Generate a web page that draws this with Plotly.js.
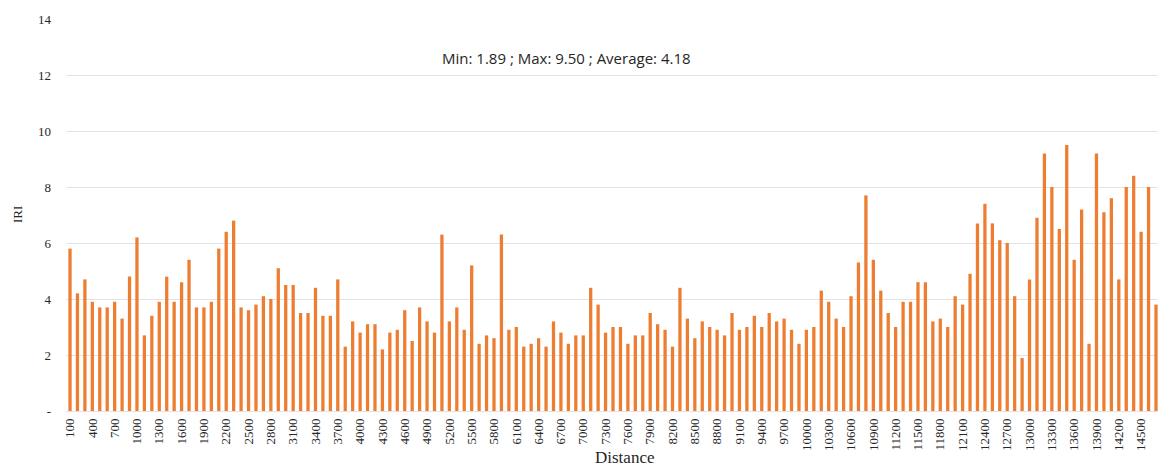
<!DOCTYPE html>
<html>
<head>
<meta charset="utf-8">
<script src="https://cdn.plot.ly/plotly-3.0.1.min.js"></script>
<style>html,body{margin:0;padding:0;background:#fff;}#chart{width:1158px;height:470px;}</style>
</head>
<body>
<div id="chart"></div>
<script>
// Distance (m), every 100 m from 100 to 14700
const distances = [];
for (let d = 100; d <= 14700; d += 100) distances.push(d);

// IRI values
const iri = [
  5.8,4.2,4.7,3.9,3.7,3.7,3.9,3.3,4.8,6.2,2.7,3.4,3.9,4.8,3.9,4.6,
  5.4,3.7,3.7,3.9,5.8,6.4,6.8,3.7,3.6,3.8,4.1,4.0,5.1,4.5,4.5,3.5,
  3.5,4.4,3.4,3.4,4.7,2.3,3.2,2.8,3.1,3.1,2.2,2.8,2.9,3.6,2.5,3.7,3.2,
  2.8,6.3,3.2,3.7,2.9,5.2,2.4,2.7,2.6,6.3,2.9,3.0,2.3,2.4,2.6,2.3,
  3.2,2.8,2.4,2.7,2.7,4.4,3.8,2.8,3.0,3.0,2.4,2.7,2.7,3.5,3.1,2.9,
  2.3,4.4,3.3,2.6,3.2,3.0,2.9,2.7,3.5,2.9,3.0,3.4,3.0,3.5,3.2,3.3,2.9,
  2.4,2.9,3.0,4.3,3.9,3.3,3.0,4.1,5.3,7.7,5.4,4.3,3.5,3.0,3.9,3.9,
  4.6,4.6,3.2,3.3,3.0,4.1,3.8,4.9,6.7,7.4,6.7,6.1,6.0,4.1,1.89,4.7,6.9,
  9.2,8.0,6.5,9.5,5.4,7.2,2.4,9.2,7.1,7.6,4.7,8.0,8.4,6.4,8.0,3.8
];

// X tick labels: every third distance
const xTickVals = distances.filter((d, i) => i % 3 === 0);
const xTickText = xTickVals.map(String);

// Y ticks
const yTickVals = [0, 2, 4, 6, 8, 10, 12, 14];
const yTickText = ['-', '2', '4', '6', '8', '10', '12', '14'];

const statsText = 'Min: 1.89 ; Max: 9.50 ; Average: 4.18';
const xTitle = 'Distance';
const yTitle = 'IRI';

const serif = 'Liberation Serif';
const gridColor = '#e3e3e3';

const trace = {
  type: 'bar',
  x: distances,
  y: iri,
  marker: { color: '#ED7D31' },
  hoverinfo: 'x+y'
};

const layout = {
  width: 1158,
  height: 470,
  margin: { l: 66, r: 0, t: 19, b: 59, pad: 0 },
  paper_bgcolor: '#ffffff',
  plot_bgcolor: '#ffffff',
  bargap: 0.56,
  showlegend: false,
  font: { family: serif },
  xaxis: {
    type: 'linear',
    range: [46, 14727],
    tickmode: 'array',
    tickvals: xTickVals,
    ticktext: xTickText,
    tickangle: -90,
    tickfont: { family: serif, size: 13, color: '#262626' },
    ticklabelstandoff: 4,
    showgrid: false,
    zeroline: false,
    showline: false,
    ticks: ''
  },
  yaxis: {
    range: [0, 14],
    tickmode: 'array',
    tickvals: yTickVals,
    ticktext: yTickText,
    tickfont: { family: serif, size: 13, color: '#262626' },
    ticklabelstandoff: 14,
    showgrid: true,
    gridcolor: gridColor,
    gridwidth: 1,
    zeroline: true,
    zerolinecolor: gridColor,
    zerolinewidth: 1,
    showline: false,
    ticks: ''
  },
  annotations: [
    {
      text: statsText,
      xref: 'paper', yref: 'y',
      x: 0.4585, y: 12.6,
      xanchor: 'center', yanchor: 'middle',
      showarrow: false,
      font: { family: 'Open Sans', size: 15, color: '#262626' }
    },
    {
      text: xTitle,
      xref: 'paper', yref: 'paper',
      x: 0.511, y: 0,
      xanchor: 'center', yanchor: 'bottom',
      yshift: -58,
      showarrow: false,
      font: { family: serif, size: 17, color: '#262626' }
    },
    {
      text: yTitle,
      xref: 'paper', yref: 'paper',
      x: 0, y: 0.5,
      xanchor: 'center', yanchor: 'middle',
      xshift: -49,
      textangle: -90,
      showarrow: false,
      font: { family: serif, size: 13, color: '#262626' }
    }
  ]
};

Plotly.newPlot('chart', [trace], layout, { displayModeBar: false, staticPlot: true });
</script>
</body>
</html>
